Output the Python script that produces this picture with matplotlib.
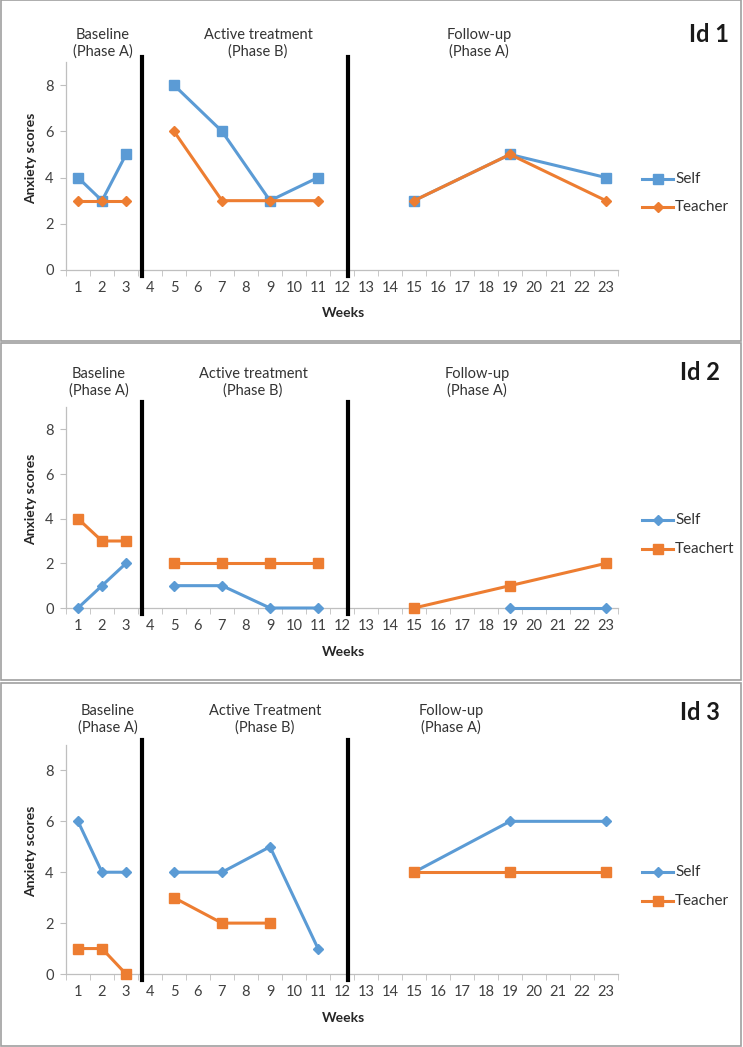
import numpy as np
import matplotlib
matplotlib.use('Agg')
from matplotlib import pyplot as plt
from matplotlib.patches import Rectangle
from matplotlib.lines import Line2D

plt.rcParams['font.family'] = ['Lato', 'DejaVu Sans']

# Data (weeks with observations; nan = no observation)
week_labels = [str(w) for w in range(1, 24)]
weeks = [1, 2, 3, 5, 7, 9, 11, 15, 19, 23]
phases = [(1, 3), (5, 11), (15, 23)]

id1_self = [4, 3, 5, 8, 6, 3, 4, 3, 5, 4]
id1_teacher = [3, 3, 3, 6, 3, 3, 3, 3, 5, 3]
id2_self = [0, 1, 2, 1, 1, 0, 0, np.nan, 0, 0]
id2_teacher = [4, 3, 3, 2, 2, 2, 2, 0, 1, 2]
id3_self = [6, 4, 4, 4, 4, 5, 1, 4, 6, 6]
id3_teacher = [1, 1, 0, 3, 2, 2, np.nan, 4, 4, 4]

phase_lines = [3.67, 12.25]

BLUE = '#5B9BD5'
ORANGE = '#ED7D31'
W, H = 743, 1047

fig = plt.figure(figsize=(W / 100, H / 100), dpi=100)


def fx(x):
    return x / W


def fy(y):
    return 1 - y / H


def plot_series(ax, vals, color, marker, ms):
    w = np.array(weeks)
    v = np.array(vals, dtype=float)
    for lo, hi in phases:
        m = (w >= lo) & (w <= hi) & ~np.isnan(v)
        ax.plot(w[m], v[m], color=color, lw=2.2, marker=marker, ms=ms,
                mec=color, mfc=color, clip_on=False, zorder=3)


panels = [
    dict(box=(0, 341), top=62, bottom=270, title='Id 1', title_xy=(709, 35),
         self_=id1_self, teacher=id1_teacher, smark='s', tmark='D', sms=7, tms=4.8,
         names=['Self', 'Teacher'], leg_y=(179, 207),
         texts=[('Baseline\n(Phase A)', 103), ('Active treatment\n(Phase B)', 258),
                ('Follow-up\n(Phase A)', 479)], text_y=33, weeks_y=313),
    dict(box=(343, 680), top=407, bottom=608, title='Id 2', title_xy=(700, 373),
         self_=id2_self, teacher=id2_teacher, smark='D', tmark='s', sms=4.8, tms=7,
         names=['Self', 'Teachert'], leg_y=(520, 549),
         texts=[('Baseline\n(Phase A)', 99), ('Active treatment\n(Phase B)', 253),
                ('Follow-up\n(Phase A)', 477)], text_y=372, weeks_y=652),
    dict(box=(683, 1046), top=745, bottom=974, title='Id 3', title_xy=(700, 713),
         self_=id3_self, teacher=id3_teacher, smark='D', tmark='s', sms=4.8, tms=7,
         names=['Self', 'Teacher'], leg_y=(872, 901),
         texts=[('Baseline\n(Phase A)', 108), ('Active Treatment\n(Phase B)', 265),
                ('Follow-up\n(Phase A)', 451)], text_y=709, weeks_y=1018),
]

for p in panels:
    y0, y1 = p['box']
    fig.patches.append(Rectangle((fx(1), fy(y1)), fx(740), (y1 - y0) / H,
                                 transform=fig.transFigure, fill=False,
                                 edgecolor='#A0A0A0', lw=1.2))
    ax = fig.add_axes([fx(66), fy(p['bottom']), fx(618 - 66), (p['bottom'] - p['top']) / H])
    ax.set_xlim(0.5, 23.5)
    ax.set_ylim(0, 9)
    for s in ['top', 'right']:
        ax.spines[s].set_visible(False)
    for s in ['left', 'bottom']:
        ax.spines[s].set_color('#BFBFBF')
        ax.spines[s].set_linewidth(0.9)
    ax.set_xticks(range(1, 24))
    ax.set_xticklabels(week_labels)
    ax.set_xticks(np.arange(0.5, 24, 1), minor=True)
    ax.set_yticks([0, 2, 4, 6, 8])
    ax.tick_params(axis='x', which='major', length=0, pad=8, labelsize=10.5, labelcolor='#404040')
    ax.tick_params(axis='x', which='minor', length=4, color='#BFBFBF')
    ax.tick_params(axis='y', length=4, color='#BFBFBF', pad=5, labelsize=10.5, labelcolor='#404040')

    plot_series(ax, p['self_'], BLUE, p['smark'], p['sms'])
    plot_series(ax, p['teacher'], ORANGE, p['tmark'], p['tms'])

    unit = (p['bottom'] - p['top']) / 9
    for xl in phase_lines:
        ax.plot([xl, xl], [-6 / unit, 9 + 5 / unit], color='black', lw=3,
                clip_on=False, zorder=4)

    for txt, cx in p['texts']:
        fig.text(fx(cx), fy(p['text_y'] - 5), txt, ha='center', va='top',
                 fontsize=10.5, color='#333333', linespacing=1.25)
    fig.text(fx(p['title_xy'][0]), fy(p['title_xy'][1]), p['title'], ha='center',
             va='center', fontsize=17, fontweight='bold', color='#1a1a1a')
    fig.text(fx(31), fy((p['top'] + p['bottom']) / 2 - 8), 'Anxiety scores', rotation=90,
             ha='center', va='center', fontsize=10, fontweight='bold', color='#262626')
    fig.text(fx(343), fy(p['weeks_y']), 'Weeks', ha='center', va='center',
             fontsize=10, fontweight='bold', color='#262626')

    handles = [Line2D([0], [0], color=BLUE, lw=2.2, marker=p['smark'], ms=p['sms']),
               Line2D([0], [0], color=ORANGE, lw=2.2, marker=p['tmark'], ms=p['tms'])]
    for h, name, ly in zip(handles, p['names'], p['leg_y']):
        fig.add_artist(Line2D([fx(642), fx(673)], [fy(ly), fy(ly)], color=h.get_color(),
                              lw=2.2, transform=fig.transFigure))
        fig.add_artist(Line2D([fx(657.5)], [fy(ly)], color=h.get_color(),
                              marker=h.get_marker(), ms=h.get_markersize(),
                              transform=fig.transFigure))
        fig.text(fx(675), fy(ly), name, ha='left', va='center', fontsize=11, color='#333333')

plt.savefig('out.png', dpi=100)
